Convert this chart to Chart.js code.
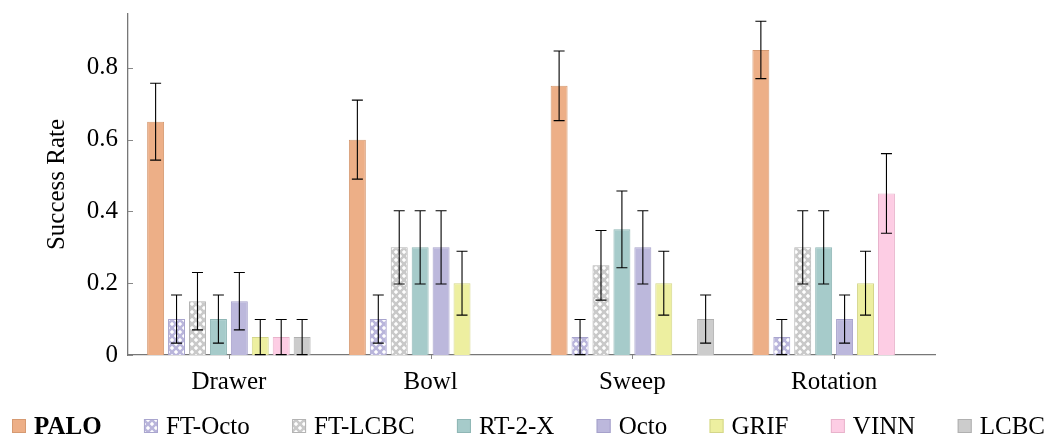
<!DOCTYPE html>
<html><head><meta charset="utf-8">
<script src="https://cdn.jsdelivr.net/npm/chart.js@4/dist/chart.umd.min.js"></script>
<style>html,body{margin:0;padding:0;background:#fff;}#wrap{width:1047px;height:437px;}</style>
</head><body><div id="wrap"><canvas id="c" width="1047" height="437"></canvas></div>
<script>
const categories = ['Drawer','Bowl','Sweep','Rotation'];
const seriesNames = ['PALO','FT-Octo','FT-LCBC','RT-2-X','Octo','GRIF','VINN','LCBC'];
const palo   = [0.65,0.60,0.75,0.85];
const ftOcto = [0.10,0.10,0.05,0.05];
const ftLcbc = [0.15,0.30,0.25,0.30];
const rt2x   = [0.10,0.30,0.35,0.30];
const octo   = [0.15,0.30,0.30,0.10];
const grif   = [0.05,0.20,0.20,0.20];
const vinn   = [0.05,0.00,0.00,0.45];
const lcbc   = [0.05,0.00,0.10,0.00];
const paloErr   = [0.107,0.110,0.097,0.080];
const ftOctoErr = [0.067,0.067,0.049,0.049];
const ftLcbcErr = [0.080,0.102,0.097,0.102];
const rt2xErr   = [0.067,0.102,0.107,0.102];
const octoErr   = [0.080,0.102,0.102,0.067];
const grifErr   = [0.049,0.089,0.089,0.089];
const vinnErr   = [0.049,0,0,0.111];
const lcbcErr   = [0.049,0,0.067,0];
const yTicks = [0,0.2,0.4,0.6,0.8];

const FONT = 'Liberation Serif';
const FS = 25;

const ctxMain = document.getElementById('c').getContext('2d');
function diamondPattern(bg){
  const c=document.createElement('canvas'); c.width=8; c.height=8;
  const x=c.getContext('2d'); x.fillStyle=bg; x.fillRect(0,0,8,8);
  x.fillStyle='#ffffff';
  const d=(cx,cy,r)=>{x.beginPath();x.moveTo(cx,cy-r);x.lineTo(cx+r,cy);x.lineTo(cx,cy+r);x.lineTo(cx-r,cy);x.closePath();x.fill();};
  d(4,4,2.2); d(0,0,2.2); d(8,0,2.2); d(0,8,2.2); d(8,8,2.2);
  return ctxMain.createPattern(c,'repeat');
}

const values = [palo,ftOcto,ftLcbc,rt2x,octo,grif,vinn,lcbc];
const errors = [paloErr,ftOctoErr,ftLcbcErr,rt2xErr,octoErr,grifErr,vinnErr,lcbcErr];
const fills = ['#EDAF87', diamondPattern('#B9B5DB'), diamondPattern('#C9C9C9'), '#A6CBCA', '#BCB8DC', '#EDEFA0', '#FDCDE4', '#CCCCCC'];
const borders = ['#D69A72','#A9A5CE','#B3B3B3','#8FB6B5','#A6A1CB','#D4D68A','#E8B3CB','#B0B0B0'];

const datasets = seriesNames.map((n,i)=>({
  label:n, data:values[i], errors:errors[i],
  backgroundColor:fills[i], borderColor:borders[i], borderWidth:1,
  barPercentage:0.81, categoryPercentage:0.83
}));

const errorBars = {
  id:'errorBars',
  afterDatasetsDraw(chart){
    const c=chart.ctx, ys=chart.scales.y;
    c.save(); c.strokeStyle='#000'; c.lineWidth=1.1;
    chart.data.datasets.forEach((ds,i)=>{
      const meta=chart.getDatasetMeta(i);
      meta.data.forEach((el,j)=>{
        const e=ds.errors[j]; if(!e) return;
        const v=ds.data[j];
        const y1=ys.getPixelForValue(v+e), y2=ys.getPixelForValue(Math.max(0,v-e));
        c.beginPath();
        c.moveTo(el.x,y1); c.lineTo(el.x,y2);
        c.moveTo(el.x-5.5,y1); c.lineTo(el.x+5.5,y1);
        c.moveTo(el.x-5.5,y2); c.lineTo(el.x+5.5,y2);
        c.stroke();
      });
    });
    c.restore();
  }
};

const tickMarks = {
  id:'tickMarks',
  afterDraw(chart){
    const c=chart.ctx, ys=chart.scales.y, xs=chart.scales.x, a=chart.chartArea;
    c.save(); c.strokeStyle='#888'; c.lineWidth=1;
    yTicks.forEach(v=>{ const y=Math.round(ys.getPixelForValue(v))+0.5; c.beginPath(); c.moveTo(a.left,y); c.lineTo(a.left+5,y); c.stroke(); });
    categories.forEach((_,i)=>{ const x=Math.round(xs.getPixelForValue(i))+0.5; c.beginPath(); c.moveTo(x,a.bottom); c.lineTo(x,a.bottom+4); c.stroke(); });
    c.restore();
  }
};

const customLegend = {
  id:'customLegend',
  afterDraw(chart){
    const c=chart.ctx; c.save();
    const box=14, gapBT=8, left=12, right=1045, baseY=434;
    const items=chart.data.datasets.map((ds,i)=>{
      const f=(i===0?'bold ':'')+FS+'px "'+FONT+'"';
      c.font=f; const w=c.measureText(ds.label).width;
      return {ds,f,w};
    });
    const total=items.reduce((s,it)=>s+box+gapBT+it.w,0);
    const gap=(right-left-total)/(items.length-1);
    let x=left;
    items.forEach(it=>{
      c.fillStyle=it.ds.backgroundColor; c.fillRect(x,419,box,box);
      c.strokeStyle=it.ds.borderColor; c.lineWidth=1; c.strokeRect(x+0.5,419.5,box-1,box-1);
      c.font=it.f; c.fillStyle='#000'; c.textBaseline='alphabetic'; c.textAlign='left';
      c.fillText(it.ds.label,x+box+gapBT,baseY);
      x+=box+gapBT+it.w+gap;
    });
    c.restore();
  }
};

new Chart(ctxMain,{
  type:'bar',
  data:{labels:categories, datasets},
  plugins:[errorBars,tickMarks,customLegend],
  options:{
    responsive:false, animation:false,
    layout:{padding:{top:14,right:112,left:0,bottom:0}},
    plugins:{legend:{display:false},tooltip:{enabled:false}},
    scales:{
      x:{
        offset:true,
        grid:{display:false,drawTicks:false},
        border:{display:true,color:'#777',width:1.3},
        ticks:{font:{family:FONT,size:FS},color:'#000',padding:12},
        afterFit(s){s.height=82; s.paddingLeft=0; s.paddingRight=0;}
      },
      y:{
        min:0,max:0.95,
        grid:{display:false,drawTicks:false},
        border:{display:true,color:'#777',width:1.3},
        afterBuildTicks(s){s.ticks=yTicks.map(v=>({value:v}));},
        ticks:{font:{family:FONT,size:FS},color:'#000',padding:10,
          callback:v=>v===0?'0':v.toFixed(1)},
        title:{display:true,text:'Success Rate',font:{family:FONT,size:FS},color:'#000',padding:{top:42,bottom:0}},
        afterFit(s){s.width=128; s.paddingTop=0; s.paddingBottom=0;}
      }
    }
  }
});
</script></body></html>
